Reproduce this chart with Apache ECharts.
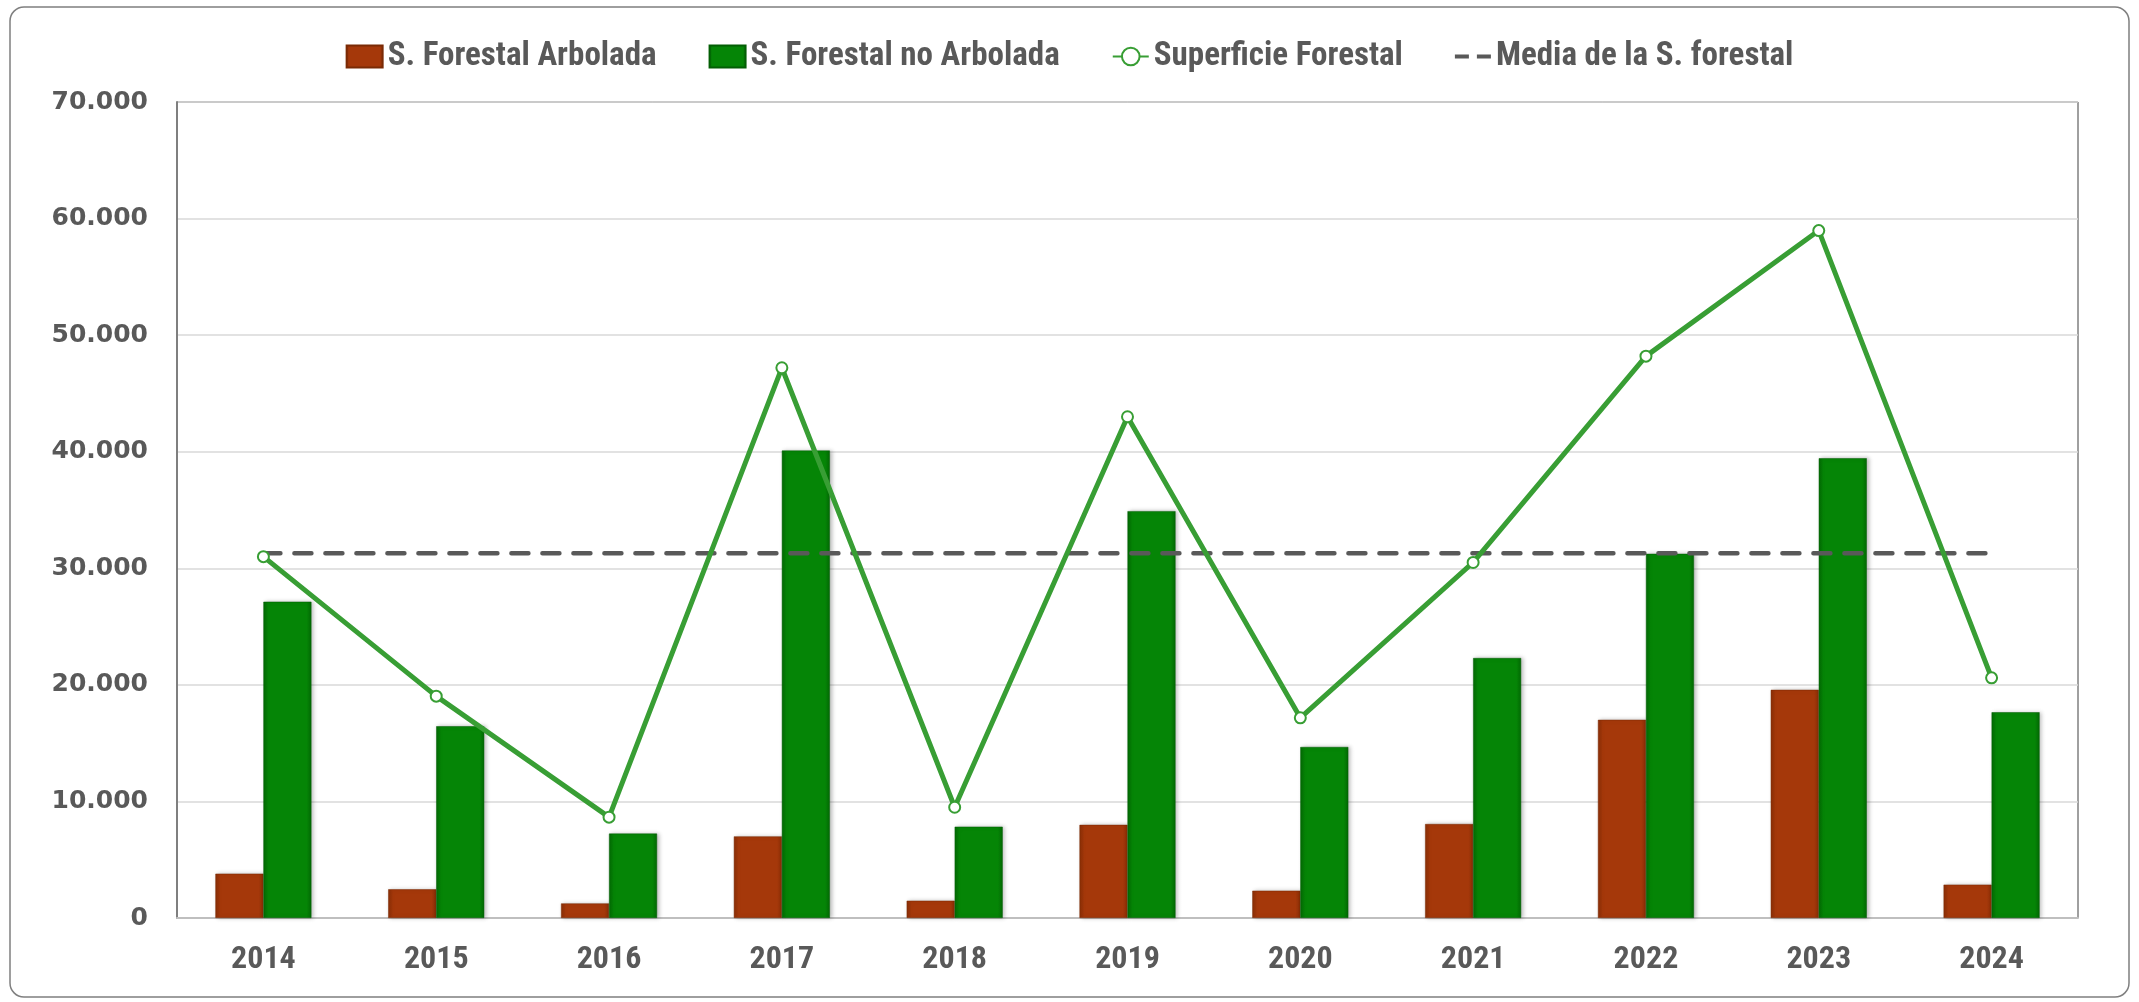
<!DOCTYPE html>
<html>
<head>
<meta charset="utf-8">
<script src="https://cdn.jsdelivr.net/npm/echarts@6/dist/echarts.min.js"></script>
<style>
  html, body { margin: 0; padding: 0; background: #fff; }
  #chart { width: 2139px; height: 1002px; }
</style>
</head>
<body>
<div id="chart"></div>
<script>
var years = ['2014', '2015', '2016', '2017', '2018', '2019', '2020', '2021', '2022', '2023', '2024']
var arbolada = [3800, 2460, 1250, 7000, 1480, 7990, 2340, 8060, 17000, 19570, 2860]
var noArbolada = [27130, 16450, 7240, 40100, 7830, 34900, 14670, 22300, 31240, 39440, 17650]
var superficie = [31000, 19030, 8650, 47200, 9500, 43000, 17170, 30500, 48200, 58970, 20600]
var media = [31300, 31300, 31300, 31300, 31300, 31300, 31300, 31300, 31300, 31300, 31300]
var names = ['S. Forestal Arbolada', 'S. Forestal no Arbolada', 'Superficie Forestal', 'Media de la S. forestal']

var narrow = "'Liberation Sans Narrow', 'Roboto Condensed', 'Liberation Sans', sans-serif"

// darker edges to fake the bevel of the original
function barFill (mid, dark) {
  return new echarts.graphic.LinearGradient(0, 0, 1, 0, [
    { offset: 0, color: dark },
    { offset: 0.1, color: mid },
    { offset: 0.9, color: mid },
    { offset: 1, color: dark }
  ])
}

var chart = echarts.init(document.getElementById('chart'))
chart.setOption({
  animation: false,
  backgroundColor: '#fff',
  graphic: [{
    type: 'rect',
    shape: { x: 10, y: 7, width: 2119, height: 990, r: 14 },
    style: { fill: 'none', stroke: '#7f7f7f', lineWidth: 1.5 },
    silent: true
  }],
  legend: {
    top: 35,
    left: 'center',
    itemGap: 52,
    itemWidth: 36,
    itemHeight: 22,
    textStyle: { fontFamily: narrow, fontWeight: 'bold', fontSize: 33, color: '#595959' },
    data: [
      { name: names[0], icon: 'rect' },
      { name: names[1], icon: 'rect' },
      { name: names[2] },
      { name: names[3], icon: 'path://M0,0h14v4h-14z M22,0h14v4h-14z' }
    ]
  },
  grid: {
    left: 177,
    right: 61,
    top: 102,
    bottom: 84,
    show: true,
    borderColor: '#404040',
    borderWidth: 1
  },
  xAxis: {
    type: 'category',
    data: years,
    axisTick: { show: false },
    axisLine: { lineStyle: { color: '#bfbfbf', width: 2 } },
    axisLabel: {
      margin: 26,
      fontFamily: narrow,
      fontWeight: 'bold',
      fontSize: 32,
      color: '#595959'
    }
  },
  yAxis: {
    type: 'value',
    min: 0,
    max: 70000,
    interval: 10000,
    axisLine: { show: true, lineStyle: { color: '#7f7f7f', width: 2 } },
    axisTick: { show: false },
    splitLine: { lineStyle: { color: '#d9d9d9', width: 1.5 } },
    axisLabel: {
      margin: 29,
      fontFamily: "'DejaVu Sans', sans-serif",
      fontWeight: 'bold',
      fontSize: 25,
      color: '#595959',
      formatter: function (v) {
        return String(v).replace(/\B(?=(\d{3})+(?!\d))/g, '.')
      }
    }
  },
  series: [
    {
      name: names[0],
      type: 'bar',
      data: arbolada,
      barWidth: 48,
      barGap: '0%',
      itemStyle: {
        color: barFill('#a5380a', '#8a2e06'),
        borderColor: '#7a2a05',
        borderWidth: 0.5,
        shadowColor: 'rgba(0,0,0,0.25)',
        shadowBlur: 4,
        shadowOffsetX: 2
      }
    },
    {
      name: names[1],
      type: 'bar',
      data: noArbolada,
      barWidth: 48,
      barGap: '0%',
      itemStyle: {
        color: barFill('#058506', '#036a04'),
        borderColor: '#035e04',
        borderWidth: 0.5,
        shadowColor: 'rgba(0,0,0,0.25)',
        shadowBlur: 4,
        shadowOffsetX: 2
      }
    },
    {
      name: names[2],
      type: 'line',
      data: superficie,
      symbol: 'emptyCircle',
      symbolSize: 11,
      z: 5,
      lineStyle: { color: '#389e34', width: 5 },
      itemStyle: { color: '#389e34', borderWidth: 2.5 }
    },
    {
      name: names[3],
      type: 'line',
      data: media,
      symbol: 'none',
      z: 4,
      lineStyle: { color: '#595959', width: 4.5, type: [17, 14], cap: 'round' },
      itemStyle: { color: '#595959' }
    }
  ]
})
</script>
</body>
</html>
